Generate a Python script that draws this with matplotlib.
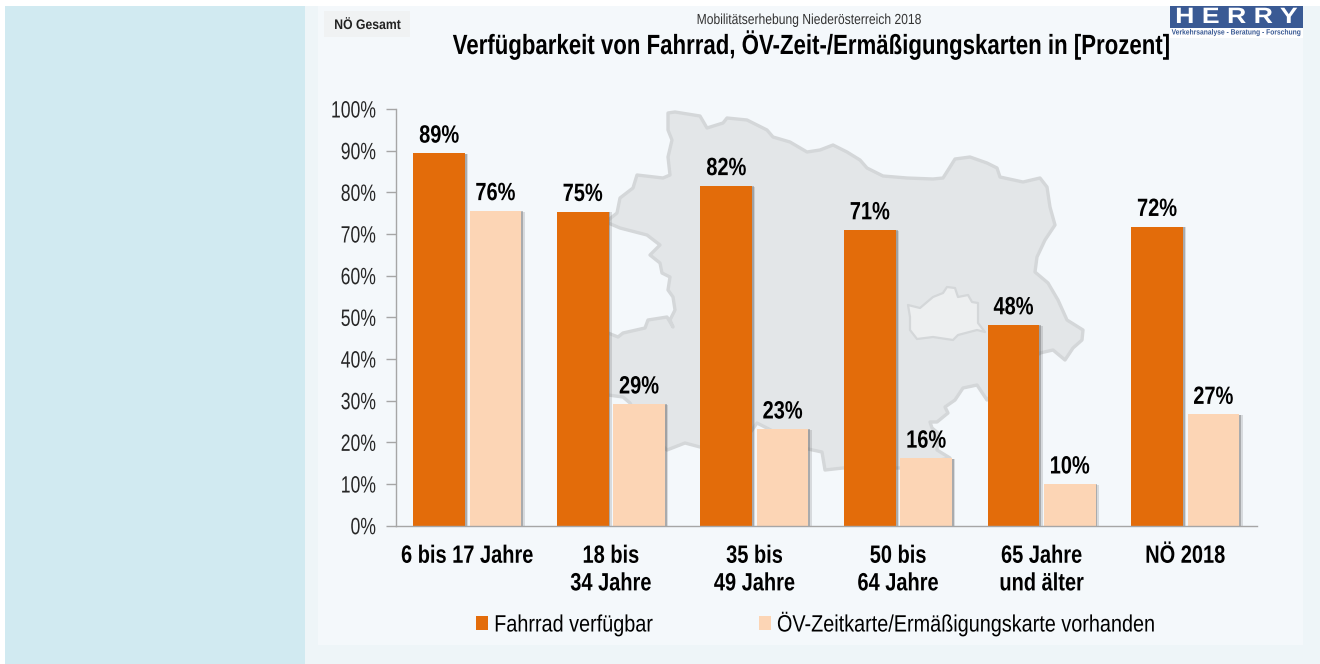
import matplotlib
matplotlib.use("Agg")
import matplotlib.pyplot as plt
import matplotlib.patheffects as pe
from matplotlib.transforms import Affine2D
import numpy as np
from matplotlib.patches import Polygon, Rectangle


# DATA
CATEGORIES = ["6 bis 17 Jahre", "18 bis\n34 Jahre", "35 bis\n49 Jahre",
              "50 bis\n64 Jahre", "65 Jahre\nund älter", "NÖ 2018"]
FAHRRAD = [89.4, 75.4, 81.6, 71.0, 48.2, 71.8]
OEV_KARTE = [75.6, 29.2, 23.2, 16.2, 10.0, 26.7]
Y_TICKS = [0, 10, 20, 30, 40, 50, 60, 70, 80, 90, 100]

# background map outline, traced in picture pixels
MAP_OUTLINE = [
    (668, 113), (675, 112), (700, 116), (707, 128), (723, 123), (727, 118), (747, 120),
    (767, 130), (773, 137), (790, 142), (807, 152), (820, 150), (833, 145), (847, 152),
    (860, 160), (867, 168), (883, 176), (907, 178), (933, 179), (943, 178), (950, 167),
    (955, 159), (970, 157), (987, 163), (997, 168), (1000, 177), (1023, 182), (1040, 178),
    (1047, 187), (1050, 207), (1055, 225), (1045, 240), (1037, 257), (1035, 272), (1048, 283),
    (1058, 300), (1067, 320), (1083, 330), (1082, 340), (1073, 348), (1065, 360), (1053, 350),
    (1040, 353), (1010, 375), (987, 400), (977, 385), (963, 388), (955, 400), (945, 407),
    (948, 413), (937, 422), (930, 422), (932, 428), (938, 433), (937, 450), (950, 458),
    (900, 468), (843, 468), (825, 470), (822, 452), (808, 449), (757, 423), (745, 440),
    (700, 447), (685, 443), (667, 450), (645, 430), (630, 403), (623, 397), (608, 395),
    (596, 360), (608, 333), (618, 337), (623, 333), (645, 328), (648, 320), (667, 317),
    (673, 327), (670, 320), (675, 310), (673, 297), (668, 290), (670, 277), (662, 273),
    (660, 263), (650, 255), (660, 245), (647, 235), (620, 228), (606, 222), (617, 213),
    (620, 198), (633, 188), (637, 175), (663, 178), (670, 175), (668, 157), (672, 140),
    (668, 130),
]
WIEN_OUTLINE = [
    (908, 305), (920, 308), (933, 297), (943, 293), (947, 287), (955, 288), (958, 297),
    (968, 295), (972, 302), (978, 303), (978, 323), (985, 332), (977, 330), (958, 335),
    (953, 340), (933, 337), (917, 339), (910, 330), (910, 317),
]

# COLORS
ORANGE = "#E36C0A"
PEACH = "#FCD5B5"
GREY_AXIS = "#A6A6A6"
LOGO_BLUE = "#3A5A94"
TEXT_FONT = ["Liberation Sans", "DejaVu Sans"]

W, H = 1320, 664


# no narrow Arial installed, so squeeze the glyphs sideways at draw time
class Squeeze(pe.AbstractPathEffect):
    def __init__(self, text, sx):
        super().__init__()
        self.text = text
        self.sx = sx

    def draw_path(self, renderer, gc, tpath, affine, rgbFace=None):
        box = self.text.get_window_extent()
        ha = self.text.get_ha()
        x0 = {"left": box.x0, "center": box.x0 + box.width / 2, "right": box.x1}[ha]
        squeeze = Affine2D().translate(-x0, 0).scale(self.sx, 1).translate(x0, 0)
        renderer.draw_path(gc, tpath, affine + squeeze, rgbFace)


def squeeze(text, sx):
    text.set_path_effects([Squeeze(text, sx)])
    return text


plt.rcParams["font.family"] = TEXT_FONT

fig = plt.figure(figsize=(W / 100, H / 100), dpi=100, facecolor="white")

# BACKGROUND (pixel coordinates)
bg = fig.add_axes([0, 0, 1, 1])
bg.set_xlim(0, W)
bg.set_ylim(H, 0)
bg.axis("off")
bg.add_patch(Rectangle((5, 6), 300, H - 6, fc="#D1EAF1", ec="none"))
bg.add_patch(Rectangle((305, 6), W - 305, H - 6, fc="#EEF5F8", ec="none"))
bg.add_patch(Rectangle((318, 6), 985, 639, fc="#F4F8FB", ec="none"))
bg.add_patch(Polygon(MAP_OUTLINE, closed=True, fc="#E3E6E8", ec="#D4D7D9", lw=2.4, joinstyle="round"))
bg.add_patch(Polygon(WIEN_OUTLINE, closed=True, fc="#EDEFF0", ec="#D4D7D9", lw=1.6, joinstyle="round"))

# header
bg.add_patch(Rectangle((324, 11), 86, 26, fc="#F0F2F3", ec="none"))
squeeze(bg.text(367.5, 25, "NÖ Gesamt", fontsize=10, fontweight="bold", ha="center", va="center",
                color="#222222"), 0.88)
squeeze(bg.text(810, 20, "Mobilitätserhebung Niederösterreich 2018", fontsize=10.5, ha="center",
                va="center", color="#333333"), 0.83)
squeeze(bg.text(811, 45, "Verfügbarkeit von Fahrrad, ÖV-Zeit-/Ermäßigungskarten in [Prozent]",
                fontsize=20, fontweight="bold", ha="center", va="center", color="black"), 0.80)

# logo
bg.add_patch(Rectangle((1170, 28), 133, 10, fc="white", ec="none"))
bg.add_patch(Rectangle((1170, 6), 133, 22, fc=LOGO_BLUE, ec="none"))
squeeze(bg.text(1236.5, 17.5, "H E R R Y", fontsize=16, fontweight="bold", ha="center", va="center",
                color="white"), 1.2)
squeeze(bg.text(1236.5, 33, "Verkehrsanalyse - Beratung - Forschung", fontsize=5.5, fontweight="bold",
                ha="center", va="center", color=LOGO_BLUE), 0.88)

# CHART
ax = fig.add_axes([395.5 / W, (H - 525.7) / H, (1257 - 395.5) / W, (525.7 - 109) / H])
ax.patch.set_alpha(0)

x = np.arange(len(CATEGORIES))
bar_w = 0.36
gap = 0.032
shadow = [pe.SimplePatchShadow(offset=(2.4, -0.6), shadow_rgbFace="#555555", alpha=0.18),
          pe.SimplePatchShadow(offset=(1.3, -0.3), shadow_rgbFace="#555555", alpha=0.35),
          pe.Normal()]

bars1 = ax.bar(x - bar_w / 2 - gap / 2, FAHRRAD, bar_w, color=ORANGE, label="Fahrrad verfügbar",
               path_effects=shadow)
bars2 = ax.bar(x + bar_w / 2 + gap / 2, OEV_KARTE, bar_w, color=PEACH,
               label="ÖV-Zeitkarte/Ermäßigungskarte vorhanden", path_effects=shadow)

for bars, values in ((bars1, FAHRRAD), (bars2, OEV_KARTE)):
    labels = ax.bar_label(bars, labels=[f"{round(v)}%" for v in values], padding=4, fontsize=18,
                          fontweight="bold", color="black")
    for t in labels:
        squeeze(t, 0.80)

ax.set_xlim(-0.5, len(CATEGORIES) - 0.5)
ax.set_ylim(0, 100)
ax.set_yticks(Y_TICKS)
ax.set_yticklabels([f"{t}%" for t in Y_TICKS], fontsize=17, color="#262626")
ax.set_xticks(x)
ax.set_xticklabels(CATEGORIES, fontsize=18, fontweight="bold", color="black", linespacing=1.19)

ax.tick_params(axis="y", length=7, width=1, color=GREY_AXIS, pad=7)
ax.tick_params(axis="x", length=0, pad=13)

for t in ax.get_yticklabels():
    squeeze(t, 0.745)
for t in ax.get_xticklabels():
    squeeze(t, 0.80)

for side in ("top", "right"):
    ax.spines[side].set_visible(False)
for side in ("left", "bottom"):
    ax.spines[side].set_color(GREY_AXIS)
    ax.spines[side].set_linewidth(1)

leg = fig.legend(handles=[bars1, bars2], loc="center left", bbox_to_anchor=(476 / W, 1 - 624 / H),
                 ncol=2, frameon=False, fontsize=17, borderpad=0, borderaxespad=0,
                 handlelength=0.52, handleheight=0.52, handletextpad=0.25, columnspacing=3.18)
for handle in leg.legend_handles:
    handle.set_path_effects([])
for t in leg.get_texts():
    squeeze(t, 0.84)

plt.savefig("out.png", dpi=100)
plt.close()
